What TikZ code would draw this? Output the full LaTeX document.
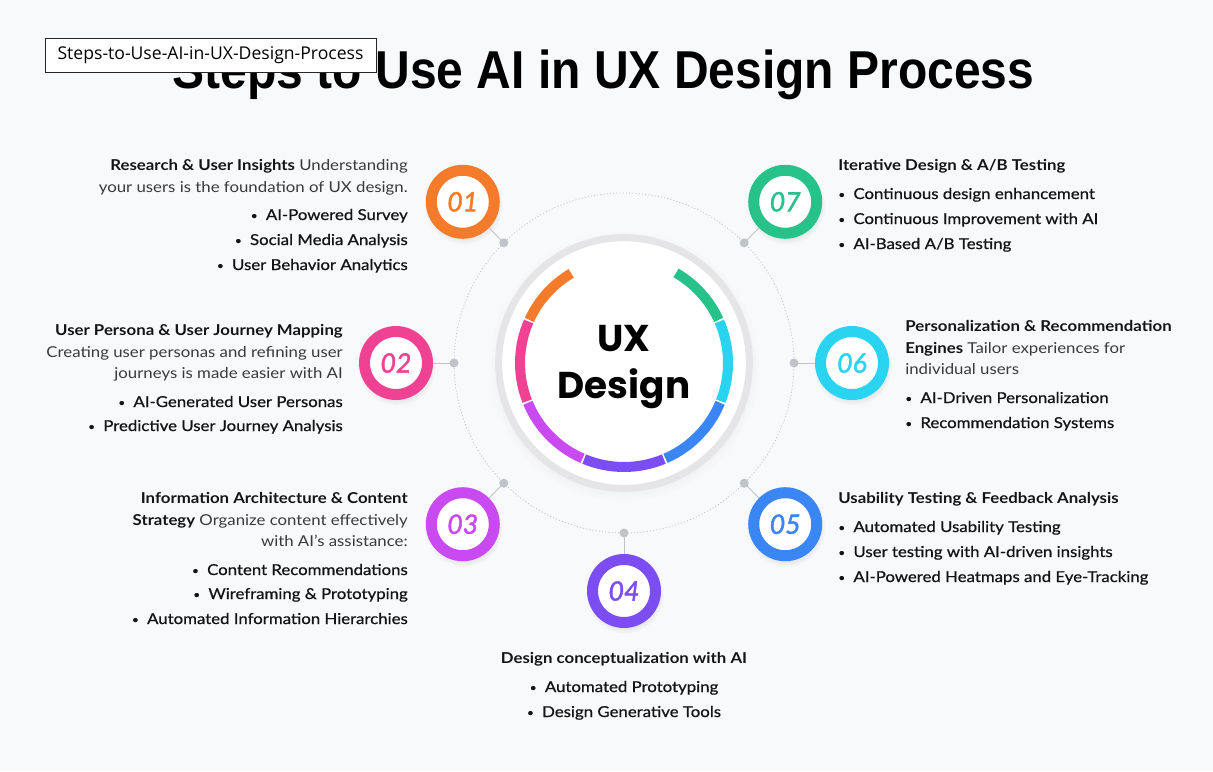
\documentclass[tikz,border=0pt]{standalone}
\usepackage{fontspec}
\setmainfont{Lato}[FakeStretch=1.12]
\newfontfamily\headfont{Liberation Sans}
\newfontfamily\tagfont{Open Sans}
\newfontfamily\uxfont{Poppins}
\newfontfamily\medfont{Lato}[FakeStretch=1.12, FakeBold=0.7]
\newfontfamily\numfont{Lato}[FakeBold=1.6]
\usetikzlibrary{shadows}

\definecolor{pagebg}{RGB}{248,249,251}
\definecolor{ringgray}{RGB}{229,229,231}
\definecolor{orbitgray}{RGB}{192,195,199}
\definecolor{descgray}{RGB}{58,58,60}
\definecolor{inkblack}{RGB}{20,20,22}
\definecolor{c1}{RGB}{244,122,44}
\definecolor{c2}{RGB}{240,66,146}
\definecolor{c3}{RGB}{200,74,240}
\definecolor{c4}{RGB}{124,77,242}
\definecolor{c5}{RGB}{58,134,245}
\definecolor{c6}{RGB}{42,211,240}
\definecolor{c7}{RGB}{38,194,138}

\newcommand\stephead[1]{\textcolor{inkblack}{\bfseries #1}}
\newcommand\dotmark{\raisebox{0.1ex}{\fontsize{8}{8}\selectfont\textbullet}\hspace{0.55em}}

\begin{document}
\begin{tikzpicture}[x=0.75pt, y=-0.75pt,
    numring/.style={circle, draw=#1, text=#1, fill=white, line width=8.25pt,
        minimum size=47.25pt, inner sep=0pt, font=\numfont\itshape\fontsize{20}{20}\selectfont,
        circular drop shadow={shadow scale=1.25, shadow xshift=0.5pt, shadow yshift=-2pt, opacity=0.14}},
    orbitdot/.style={circle, fill=orbitgray, minimum size=6.75pt, inner sep=0pt},
    link/.style={orbitgray, line width=0.75pt},
    desc/.style={font=\fontsize{11.25}{13}\selectfont, text=descgray, inner sep=0pt},
    point/.style={font=\medfont\fontsize{11.25}{13}\selectfont, text=inkblack, inner sep=0pt}]
    % page
    \fill[pagebg] (0,0) rectangle (1213,771);
    \useasboundingbox (0,0) rectangle (1213,771);

    % title
    \node[font=\headfont\bfseries\fontsize{40}{40}\selectfont, anchor=base, inner sep=0pt] (title) at (603.5,88)
        {\scalebox{0.9}[1]{Steps to Use AI in UX Design Process}};

    % orbit and centre disk
    \coordinate (ctr) at (624,363);
    \draw[orbitgray, line width=0.6pt, dash pattern=on 0.8pt off 1.6pt] (ctr) circle[radius=170];
    \node[circle, fill=white, draw=ringgray, line width=5.25pt, minimum size=188pt, inner sep=0pt,
        circular drop shadow={shadow scale=1.08, shadow xshift=0pt, shadow yshift=-2pt, opacity=0.10}] (ux) at (ctr) {};
    \foreach \a/\b/\c in {239.5/204.5/c1, 203.5/158.5/c2, 157.5/113.5/c3, 112.5/67.5/c4,
                          66.5/22.5/c5, 21.5/-23.5/c6, -24.5/-60/c7} {
        \draw[\c, line width=7.5pt] (ctr) ++(\a:104) arc[start angle=\a, end angle=\b, radius=104];
    }
    \node[font=\uxfont\bfseries\fontsize{28}{35}\selectfont, align=center, text=black, inner sep=0pt] (uxtext) at (624,367) {UX\\Design};

    % steps: dots on the orbit, numbered rings, links
    \foreach \k in {1,...,7} {
        \pgfmathsetmacro\ang{270-45*\k}
        \path (ctr) ++(\ang:228) node[numring=c\k] (n\k) {0\k};
        \path (ctr) ++(\ang:170) coordinate (o\k);
    }
    \foreach \k in {1,...,7} {
        \draw[link] (n\k) -- (o\k);
        \node[orbitdot] (d\k) at (o\k) {};
    }

    % 01
    \foreach \y/\txt [count=\i] in {170/{\stephead{Research \& User Insights} Understanding},
                                    192/{your users is the foundation of UX design.}}
        \node[desc, anchor=base east] (t1-\i) at (408,\y) {\txt};
    \foreach \y/\txt [count=\i] in {220/AI-Powered Survey, 245/Social Media Analysis, 270/User Behavior Analytics}
        \node[point, anchor=base east] (p1-\i) at (408,\y) {\dotmark\txt};

    % 02
    \foreach \y/\txt [count=\i] in {335/{\stephead{User Persona \& User Journey Mapping}},
                                    357/{Creating user personas and refining user},
                                    378/{journeys is made easier with AI}}
        \node[desc, anchor=base east] (t2-\i) at (343,\y) {\txt};
    \foreach \y/\txt [count=\i] in {407/AI-Generated User Personas, 431/Predictive User Journey Analysis}
        \node[point, anchor=base east] (p2-\i) at (343,\y) {\dotmark\txt};

    % 03
    \foreach \y/\txt [count=\i] in {503/{\stephead{Information Architecture \& Content}},
                                    525/{\stephead{Strategy} Organize content effectively},
                                    546/{with AI's assistance:}}
        \node[desc, anchor=base east] (t3-\i) at (408,\y) {\txt};
    \foreach \y/\txt [count=\i] in {575/Content Recommendations, 599/Wireframing \& Prototyping,
                                    624/Automated Information Hierarchies}
        \node[point, anchor=base east] (p3-\i) at (408,\y) {\dotmark\txt};

    % 04
    \node[desc, anchor=base] (t4-1) at (624,663) {\stephead{Design conceptualization with AI}};
    \foreach \y/\txt [count=\i] in {692/Automated Prototyping, 717/Design Generative Tools}
        \node[point, anchor=base] (p4-\i) at (624,\y) {\dotmark\txt};

    % 05
    \node[desc, anchor=base west] (t5-1) at (838,503) {\stephead{Usability Testing \& Feedback Analysis}};
    \foreach \y/\txt [count=\i] in {532/Automated Usability Testing, 557/User testing with AI-driven insights,
                                    582/AI-Powered Heatmaps and Eye-Tracking}
        \node[point, anchor=base west] (p5-\i) at (838,\y) {\dotmark\txt};

    % 06
    \foreach \y/\txt [count=\i] in {331/{\stephead{Personalization \& Recommendation}},
                                    353/{\stephead{Engines} Tailor experiences for},
                                    374/{individual users}}
        \node[desc, anchor=base west] (t6-\i) at (905,\y) {\txt};
    \foreach \y/\txt [count=\i] in {403/AI-Driven Personalization, 428/Recommendation Systems}
        \node[point, anchor=base west] (p6-\i) at (905,\y) {\dotmark\txt};

    % 07
    \node[desc, anchor=base west] (t7-1) at (838,170) {\stephead{Iterative Design \& A/B Testing}};
    \foreach \y/\txt [count=\i] in {199/{Continuous design enhancement}, 224/{Continuous Improvement with AI},
                                    249/{AI-Based A/B Testing}}
        \node[point, anchor=base west] (p7-\i) at (838,\y) {\dotmark\txt};

    % file tag over the title
    \node[draw=black!85, fill=white, line width=0.75pt, minimum width=248.25pt, minimum height=25.5pt,
        inner sep=0pt, font=\tagfont\fontsize{13.2}{13.2}\selectfont] (tag) at (210.5,55)
        {\raisebox{-0.25ex}{Steps-to-Use-AI-in-UX-Design-Process}};
\end{tikzpicture}
\end{document}
